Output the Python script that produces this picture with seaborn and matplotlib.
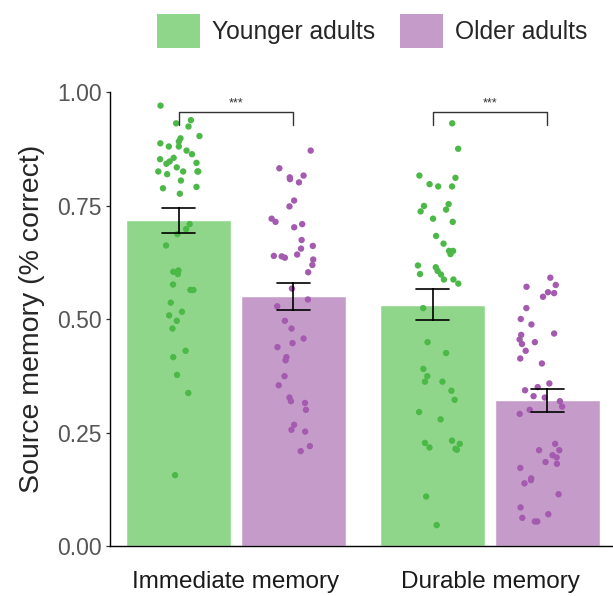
import numpy as np
import pandas as pd
import matplotlib
matplotlib.use("Agg")
import matplotlib.pyplot as plt
import matplotlib.patches as mpatches
import seaborn as sns

conditions = ["Immediate memory", "Durable memory"]
groups = ["Younger adults", "Older adults"]

# proportion correct per participant
young_immediate = [0.970, 0.938, 0.931, 0.924, 0.903, 0.898, 0.891, 0.887, 0.880, 0.880,
                   0.871, 0.863, 0.855, 0.852, 0.847, 0.844, 0.842, 0.834, 0.825, 0.825,
                   0.825, 0.825, 0.819, 0.805, 0.791, 0.788, 0.776, 0.709, 0.698, 0.687,
                   0.662, 0.607, 0.604, 0.599, 0.576, 0.564, 0.564, 0.536, 0.516, 0.508,
                   0.496, 0.479, 0.430, 0.416, 0.377, 0.337, 0.156]
old_immediate = [0.871, 0.832, 0.816, 0.812, 0.808, 0.801, 0.761, 0.748, 0.721, 0.714,
                 0.709, 0.702, 0.674, 0.661, 0.655, 0.639, 0.635, 0.642, 0.638, 0.631,
                 0.619, 0.603, 0.567, 0.543, 0.528, 0.496, 0.479, 0.457, 0.447, 0.438,
                 0.416, 0.409, 0.374, 0.354, 0.327, 0.319, 0.315, 0.300, 0.267, 0.256,
                 0.252, 0.220, 0.209]
young_durable = [0.931, 0.875, 0.816, 0.811, 0.797, 0.792, 0.792, 0.753, 0.749, 0.741,
                 0.737, 0.721, 0.714, 0.683, 0.666, 0.650, 0.650, 0.643, 0.618, 0.614,
                 0.606, 0.599, 0.598, 0.587, 0.587, 0.578, 0.524, 0.449, 0.425, 0.390,
                 0.374, 0.362, 0.362, 0.342, 0.322, 0.295, 0.279, 0.232, 0.225, 0.217,
                 0.227, 0.214, 0.212, 0.109, 0.046]
old_durable = [0.591, 0.575, 0.571, 0.559, 0.557, 0.549, 0.524, 0.500, 0.488, 0.468,
               0.465, 0.455, 0.449, 0.445, 0.430, 0.413, 0.402, 0.358, 0.350, 0.343,
               0.330, 0.327, 0.319, 0.307, 0.300, 0.291, 0.225, 0.211, 0.211, 0.200,
               0.195, 0.185, 0.181, 0.172, 0.145, 0.149, 0.138, 0.114, 0.085, 0.070,
               0.062, 0.054, 0.054]

sig_labels = ["***", "***"]

bar_colors = {"Younger adults": "#8fd68b", "Older adults": "#c59cc9"}
point_colors = {"Younger adults": "#4cb848", "Older adults": "#a45baf"}


def build_frame():
    parts = [
        ("Immediate memory", "Younger adults", young_immediate),
        ("Immediate memory", "Older adults", old_immediate),
        ("Durable memory", "Younger adults", young_durable),
        ("Durable memory", "Older adults", old_durable),
    ]
    rows = []
    for cond, grp, vals in parts:
        for v in vals:
            rows.append({"condition": cond, "group": grp, "score": v})
    return pd.DataFrame(rows)


df = build_frame()

sns.set_style("ticks")
plt.rcParams["font.family"] = ["Liberation Sans", "DejaVu Sans"]

fig = plt.figure(figsize=(6.13, 5.96), dpi=100)
ax = fig.add_axes([0.1794, 0.0839, 0.8206, 0.7617])

sns.barplot(data=df, x="condition", y="score", hue="group",
            order=conditions, hue_order=groups, palette=bar_colors,
            width=0.9, gap=0.08, errorbar="se", capsize=0.26,
            err_kws={"color": "black", "linewidth": 1.2},
            saturation=1, legend=False, ax=ax)

np.random.seed(7)
n_before = len(ax.collections)
sns.stripplot(data=df, x="condition", y="score", hue="group",
              order=conditions, hue_order=groups, palette=point_colors,
              dodge=True, jitter=0.17, size=4.6, linewidth=0,
              legend=False, zorder=1.5, ax=ax)

# stripplot dodges by 0.2, bars here sit at +/-0.225
for coll, dx in zip(ax.collections[n_before:], [-0.025, 0.025]):
    off = coll.get_offsets()
    off[:, 0] = off[:, 0] + dx
    coll.set_offsets(off)

# significance brackets between the two bars of each condition
bars = sorted(ax.patches, key=lambda p: p.get_x())
centers = [p.get_x() + p.get_width() / 2 for p in bars]
for i, lab in enumerate(sig_labels):
    x1, x2 = centers[2 * i], centers[2 * i + 1]
    ax.plot([x1, x1, x2, x2], [0.928, 0.955, 0.955, 0.928],
            color="#333333", linewidth=1.0, clip_on=False)
    ax.text((x1 + x2) / 2, 0.962, lab, ha="center", va="bottom",
            fontsize=9, color="#333333")

ax.set_xlim(-0.496, 1.484)
ax.set_ylim(0, 1.0)
ax.set_yticks([0, 0.25, 0.5, 0.75, 1.0])
ax.set_yticklabels(["0.00", "0.25", "0.50", "0.75", "1.00"])
ax.set_xlabel("")
ax.set_ylabel("Source memory (% correct)", fontsize=20.5, labelpad=9)
ax.tick_params(axis="y", labelsize=16.5, labelcolor="#555555", length=3,
               width=0.9, pad=3, color="#333333")
ax.tick_params(axis="x", labelsize=17.5, labelcolor="#1a1a1a", length=0, pad=18)
sns.despine(ax=ax)
for side in ["left", "bottom"]:
    ax.spines[side].set_linewidth(1.0)
    ax.spines[side].set_color("black")

handles = [mpatches.Patch(facecolor=bar_colors[g], edgecolor="none") for g in groups]
fig.legend(handles, groups, loc="center", bbox_to_anchor=(0.607, 0.948),
           ncol=2, frameon=False, fontsize=17.7, handlelength=1.75, handleheight=1.75,
           handletextpad=0.5, columnspacing=1.0)

fig.savefig("out.png", dpi=100)
